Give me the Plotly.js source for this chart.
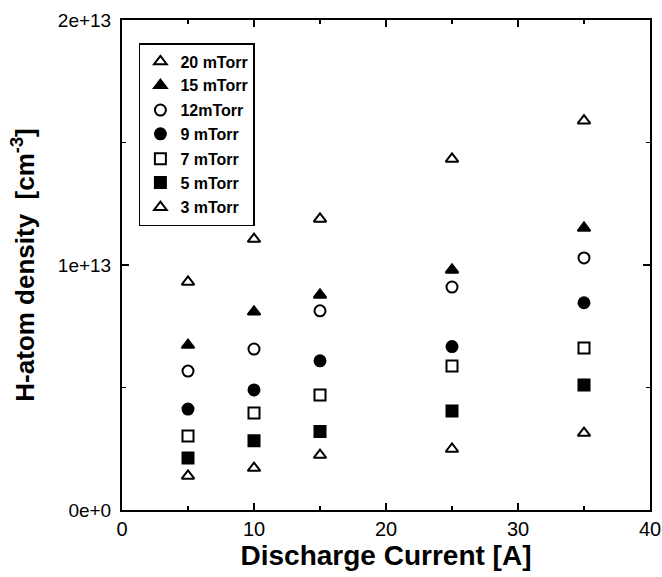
<!DOCTYPE html>
<html>
<head>
<meta charset="utf-8">
<script src="https://cdn.plot.ly/plotly-3.0.1.min.js"></script>
<style>html,body{margin:0;padding:0;background:#fff;}#chart{width:662px;height:577px;}</style>
</head>
<body>
<div id="chart"></div>
<script>
const current = [5, 10, 15, 25, 35];
const p20 = [9.31e12, 11.06e12, 11.88e12, 14.33e12, 15.89e12];
const p15 = [6.73e12, 8.09e12, 8.78e12, 9.80e12, 11.51e12];
const p12 = [5.67e12, 6.57e12, 8.13e12, 9.10e12, 10.29e12];
const p9  = [4.12e12, 4.90e12, 6.09e12, 6.67e12, 8.46e12];
const p7  = [3.02e12, 3.96e12, 4.69e12, 5.88e12, 6.61e12];
const p5  = [2.12e12, 2.83e12, 3.20e12, 4.04e12, 5.10e12];
const p3  = [1.39e12, 1.71e12, 2.24e12, 2.49e12, 3.14e12];
const seriesNames = ['20 mTorr', '15 mTorr', '12mTorr', '9 mTorr', '7 mTorr', '5 mTorr', '3 mTorr'];
const yTickVals = [0, 1e13, 2e13];
const yTickText = ['0e+0', '1e+13', '2e+13'];
const xTickVals = [0, 10, 20, 30, 40];

const seriesData = [p20, p15, p12, p9, p7, p5, p3];
const symbols = ['triangle-up-open', 'triangle-up', 'circle-open', 'circle', 'square-open', 'square', 'triangle-up-open'];
const groups = ['a', 'a', 'b', 'b', 'c', 'c', 'd'];

const traces = seriesData.map((ys, i) => ({
  x: current, y: ys, name: seriesNames[i], type: 'scatter', mode: 'markers',
  legendgroup: groups[i],
  marker: {symbol: symbols[i], size: 11, color: '#000', line: {color: '#000', width: 2}}
}));

const font = 'Liberation Sans, Arial, sans-serif';
const layout = {
  width: 662, height: 577,
  margin: {l: 122, r: 12, t: 20, b: 67},
  paper_bgcolor: '#fff', plot_bgcolor: '#fff',
  showlegend: true,
  legend: {
    x: 0.032, y: 0.953, xanchor: 'left', yanchor: 'top',
    bgcolor: '#fff', bordercolor: '#000', borderwidth: 1.5,
    traceorder: 'grouped', tracegroupgap: 1,
    font: {family: font, size: 16, color: '#000', weight: 'bold'},
    itemwidth: 30, entrywidth: 128
  },
  xaxis: {
    range: [0, 40], tickvals: xTickVals, ticktext: xTickVals.map(String),
    showgrid: false, zeroline: false,
    showline: true, linecolor: '#000', linewidth: 2, mirror: 'allticks',
    ticks: 'inside', ticklen: 7, tickwidth: 1.5, tickcolor: '#000',
    minor: {dtick: 5, tick0: 0, ticks: 'inside', ticklen: 4, tickwidth: 1.5, tickcolor: '#000', showgrid: false},
    tickfont: {family: font, size: 20, color: '#000'},
    title: {text: 'Discharge Current [A]', font: {family: font, size: 28, color: '#000', weight: 'bold'}, standoff: 2}
  },
  yaxis: {
    range: [0, 2e13], tickvals: yTickVals, ticktext: yTickText,
    showgrid: false, zeroline: false,
    showline: true, linecolor: '#000', linewidth: 2, mirror: 'allticks',
    ticks: 'inside', ticklen: 7, tickwidth: 1.5, tickcolor: '#000',
    ticklabelstandoff: 5,
    minor: {dtick: 5e12, tick0: 0, ticks: 'inside', ticklen: 4, tickwidth: 1.5, tickcolor: '#000', showgrid: false},
    tickfont: {family: font, size: 19, color: '#000'},
    title: {text: 'H-atom density  [cm<sup>-3</sup>]', font: {family: font, size: 26, color: '#000', weight: 'bold'}, standoff: 16}
  }
};

Plotly.newPlot('chart', traces, layout, {displayModeBar: false, staticPlot: true});
</script>
</body>
</html>
